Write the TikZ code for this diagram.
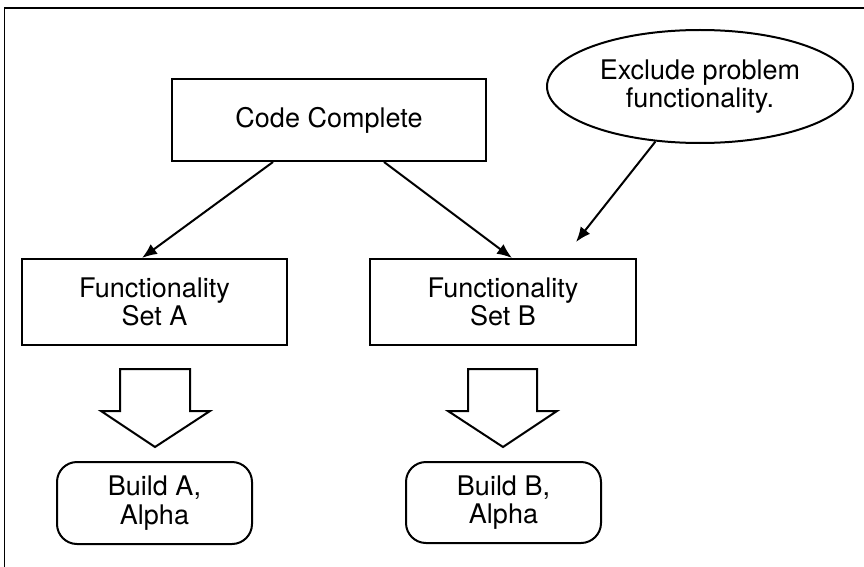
\documentclass[tikz,border=0pt]{standalone}
\usepackage{fontspec}
\setmainfont{TeX Gyre Heros}
\usetikzlibrary{shapes.geometric,arrows.meta,calc}
\begin{document}
\begin{tikzpicture}[x=1pt,y=-1pt,
  every node/.style={font=\fontsize{27}{28.5}\selectfont, align=center, inner sep=0pt},
  boxnode/.style={draw, line width=2pt, rectangle},
  buildnode/.style={draw, line width=2pt, rectangle, rounded corners=20pt},
  ellnode/.style={draw, line width=2pt, ellipse},
  conn/.style={line width=2pt, -{Latex[length=15pt,width=12pt]}},
  blockarrow/.style={draw, line width=2pt, fill=white, line join=miter},
  frameline/.style={line width=1.2pt}
]
\useasboundingbox (0,0) rectangle (864,567);
\draw[frameline] (4.7,567) -- (4.7,8) -- (864,8);

\node[boxnode, minimum width=314pt, minimum height=82pt] (cc) at (329,120) {Code Complete};
\node[ellnode, minimum width=306pt, minimum height=113pt] (ex) at (700,86.5) {Exclude problem\\functionality.};
\node[boxnode, minimum width=265pt, minimum height=86pt] (sa) at (154.5,302) {Functionality\\Set A};
\node[boxnode, minimum width=266pt, minimum height=86pt] (sb) at (503,302) {Functionality\\Set B};
\node[buildnode, minimum width=195pt, minimum height=82pt] (ba) at (154.5,503) {Build A,\\Alpha};
\node[buildnode, minimum width=195pt, minimum height=81pt] (bb) at (503.5,502.5) {Build B,\\Alpha};

\coordinate (exend) at (576,242);

\draw[conn] ([xshift=102pt]cc.south west) -- ([xshift=121pt]sa.north west);
\draw[conn] ([xshift=213pt]cc.south west) -- ([xshift=143pt]sb.north west);
\draw[conn] (ex.-129) -- (exend);

% block arrows
\draw[blockarrow] (120,369) -- (190,369) -- (190,411) -- (210,411) -- (155,447) -- (101,411) -- (120,411) -- cycle;
\draw[blockarrow] (468,369) -- (537,369) -- (537,411) -- (557,411) -- (503,447) -- (448,411) -- (468,411) -- cycle;
\end{tikzpicture}
\end{document}
